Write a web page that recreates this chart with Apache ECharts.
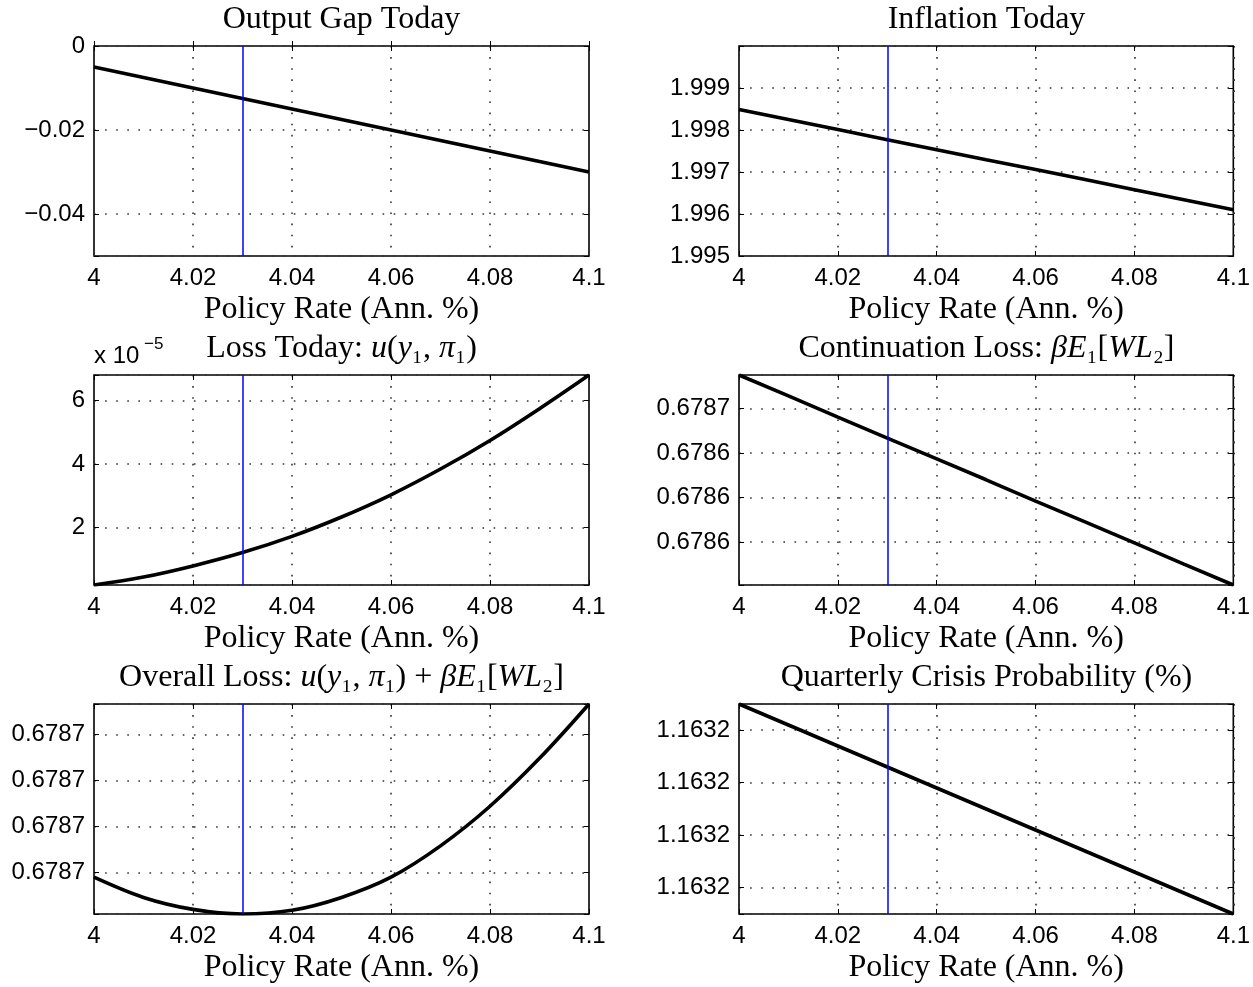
<!DOCTYPE html>
<html>
<head>
<meta charset="utf-8">
<title>Policy rate trade-offs</title>
<script src="https://cdn.jsdelivr.net/npm/echarts@6/dist/echarts.min.js"></script>
<style>
  html, body { margin: 0; padding: 0; background: #fff; }
  #chart { width: 1253px; height: 987px; }
</style>
</head>
<body>
<div id="chart"></div>
<script>
// policy rate grid (Ann. %) and the chosen rate (blue line)
const policyRate = [4.00, 4.01, 4.02, 4.03, 4.04, 4.05, 4.06, 4.07, 4.08, 4.09, 4.10];
const chosenRate = 4.03;
const rateTicks = [4, 4.02, 4.04, 4.06, 4.08, 4.1];

// values
const outputGap = [-0.0050, -0.0075, -0.0100, -0.0125, -0.0150, -0.0175, -0.0200, -0.0225, -0.0250, -0.0275, -0.0300];
const inflation = [1.99849, 1.99825, 1.99801, 1.99777, 1.99753, 1.99729, 1.99706, 1.99682, 1.99658, 1.99634, 1.99610];
const lossToday = [0.19e-5, 0.44e-5, 0.79e-5, 1.21e-5, 1.72e-5, 2.33e-5, 3.03e-5, 3.84e-5, 4.74e-5, 5.74e-5, 6.80e-5];
const continuationLoss = [0.6786576, 0.6786529, 0.6786481, 0.6786434, 0.6786387, 0.6786340,
  0.6786292, 0.6786245, 0.6786198, 0.6786150, 0.6786103];
const overallLoss = [0.6786595, 0.6786573, 0.6786560, 0.6786555, 0.6786559, 0.6786573,
  0.6786595, 0.6786629, 0.6786672, 0.6786724, 0.6786783];
const crisisProb = [1.163235, 1.163231, 1.163227, 1.163223, 1.163219, 1.163215,
  1.163211, 1.163207, 1.163203, 1.163199, 1.163195];

// y tick values per panel (labels are rounded like the original)
const gapTicks = [-0.04, -0.02, 0];
const inflationTicks = [1.995, 1.996, 1.997, 1.998, 1.999];
const lossTicks = [2e-5, 4e-5, 6e-5];
const contTicks = [0.67862, 0.67863, 0.67864, 0.67865];
const overallTicks = [0.678660, 0.678665, 0.678670, 0.678675];
const crisisTicks = [1.16320, 1.16321, 1.16322, 1.16323];

const SANS = '"Liberation Sans", Arial, sans-serif';
const SERIF = '"Liberation Serif", "DejaVu Serif", serif';

const round4 = (v) => (Math.round(Math.round(v * 1e5) / 10) / 1e4).toFixed(4);

const panels = [
  {
    title: '{r|Output Gap Today}',
    data: outputGap, ticks: gapTicks, min: -0.05, max: 0,
    fmt: (v) => (Math.abs(v) < 1e-12 ? '0' : v.toFixed(2).replace('-', '\u2212')),
  },
  {
    title: '{r|Inflation Today}',
    data: inflation, ticks: inflationTicks, min: 1.995, max: 2.0, fromMin: true,
    fmt: (v) => v.toFixed(3),
  },
  {
    title: '{r|Loss Today: }{i|u}{r|(}{i|y}{r|\u2081, }{i|\u03c0}{r|\u2081)}',
    data: lossToday, ticks: lossTicks, smooth: true,
    fmt: (v) => String(Math.round(v * 1e5)),
  },
  {
    title: '{r|Continuation Loss: }{i|\u03b2E}{r|\u2081[}{i|WL}{r|\u2082]}',
    data: continuationLoss, ticks: contTicks, fmt: round4,
  },
  {
    title: '{r|Overall Loss: }{i|u}{r|(}{i|y}{r|\u2081, }{i|\u03c0}{r|\u2081) + }{i|\u03b2E}{r|\u2081[}{i|WL}{r|\u2082]}',
    data: overallLoss, ticks: overallTicks, smooth: true, fmt: round4,
  },
  {
    title: '{r|Quarterly Crisis Probability (%)}',
    data: crisisProb, ticks: crisisTicks, fmt: round4,
  },
];

const colLeft = [94, 739];
const rowTop = [46, 375, 704];
const boxW = 495;
const boxH = 210;

const grids = [];
const xAxes = [];
const yAxes = [];
const series = [];
const graphics = [];

const tickStyle = { show: true, inside: true, length: 5, lineStyle: { color: '#000', width: 1 } };
const gridLine = { show: true, lineStyle: { color: '#333', width: 1.6, type: [1.6, 9.5] } };

panels.forEach((p, i) => {
  const col = i % 2;
  const row = Math.floor(i / 2);
  const left = colLeft[col];
  const top = rowTop[row];
  grids.push({
    left: left, top: top, width: boxW, height: boxH,
    show: true, borderColor: '#000', borderWidth: 1.6, backgroundColor: 'transparent',
  });

  const xStep = rateTicks[1] - rateTicks[0];
  const xBase = {
    gridIndex: i, type: 'value',
    min: policyRate[0], max: policyRate[policyRate.length - 1], interval: xStep,
    axisLine: { show: false },
  };
  xAxes.push(Object.assign({}, xBase, {
    position: 'bottom',
    axisTick: tickStyle,
    splitLine: gridLine,
    axisLabel: {
      color: '#000', fontFamily: SANS, fontSize: 24, margin: 10,
      formatter: (v) => String(+v.toFixed(2)),
    },
    name: 'Policy Rate (Ann. %)',
    nameLocation: 'middle',
    nameGap: 38,
    nameTextStyle: { color: '#000', fontFamily: SERIF, fontSize: 32 },
  }));
  xAxes.push(Object.assign({}, xBase, {
    position: 'top', axisTick: tickStyle, axisLabel: { show: false }, splitLine: { show: false },
  }));

  const yMin = p.min != null ? p.min : Math.min(...p.data);
  const yMax = p.max != null ? p.max : Math.max(...p.data);
  const step = p.ticks[1] - p.ticks[0];
  const eps = step * 1e-3;
  const first = p.ticks[0];
  const last = p.ticks[p.ticks.length - 1];
  const stepOpt = p.fromMin ? { interval: step } : { minInterval: step, maxInterval: step };
  const yBase = Object.assign({ gridIndex: i, type: 'value', min: yMin, max: yMax, scale: true, axisLine: { show: false } }, stepOpt);
  yAxes.push(Object.assign({}, yBase, {
    position: 'left',
    axisTick: tickStyle,
    splitLine: gridLine,
    axisLabel: {
      color: '#000', fontFamily: SANS, fontSize: 24, margin: 9,
      showMinLabel: true, showMaxLabel: true,
      // only the listed tick values get a label
      formatter: (v) => (v < first - eps || v > last + eps ? '' : p.fmt(v)),
    },
  }));
  yAxes.push(Object.assign({}, yBase, {
    position: 'right', axisTick: tickStyle, axisLabel: { show: false }, splitLine: { show: false },
  }));

  series.push({
    type: 'line',
    xAxisIndex: 2 * i,
    yAxisIndex: 2 * i,
    data: policyRate.map((x, k) => [x, p.data[k]]),
    showSymbol: false,
    smooth: p.smooth ? 0.35 : false,
    lineStyle: { color: '#000', width: 3.6 },
    z: 3,
    markLine: {
      silent: true, symbol: 'none', label: { show: false },
      lineStyle: { color: '#0000ff', width: 1.5, type: 'solid' },
      data: [{ xAxis: chosenRate }],
      z: 4,
    },
  });

  graphics.push({
    type: 'text',
    x: left + boxW / 2,
    y: top - 26,
    style: {
      text: p.title,
      align: 'center',
      verticalAlign: 'middle',
      fill: '#000',
      rich: {
        r: { fontFamily: SERIF, fontSize: 32, fill: '#000' },
        i: { fontFamily: SERIF, fontSize: 32, fontStyle: 'italic', fill: '#000' },
      },
    },
  });
});

// exponent note of the loss-today axis
graphics.push({
  type: 'text', x: colLeft[0], y: rowTop[1] - 19,
  style: { text: 'x 10', fontFamily: SANS, fontSize: 24, fill: '#000', verticalAlign: 'middle' },
});
graphics.push({
  type: 'text', x: colLeft[0] + 50, y: rowTop[1] - 31,
  style: { text: '\u22125', fontFamily: SANS, fontSize: 17, fill: '#000', verticalAlign: 'middle' },
});

const chart = echarts.init(document.getElementById('chart'));
chart.setOption({
  animation: false,
  backgroundColor: '#fff',
  grid: grids,
  xAxis: xAxes,
  yAxis: yAxes,
  series: series,
  graphic: graphics,
});
window.addEventListener('resize', () => chart.resize());
</script>
</body>
</html>
